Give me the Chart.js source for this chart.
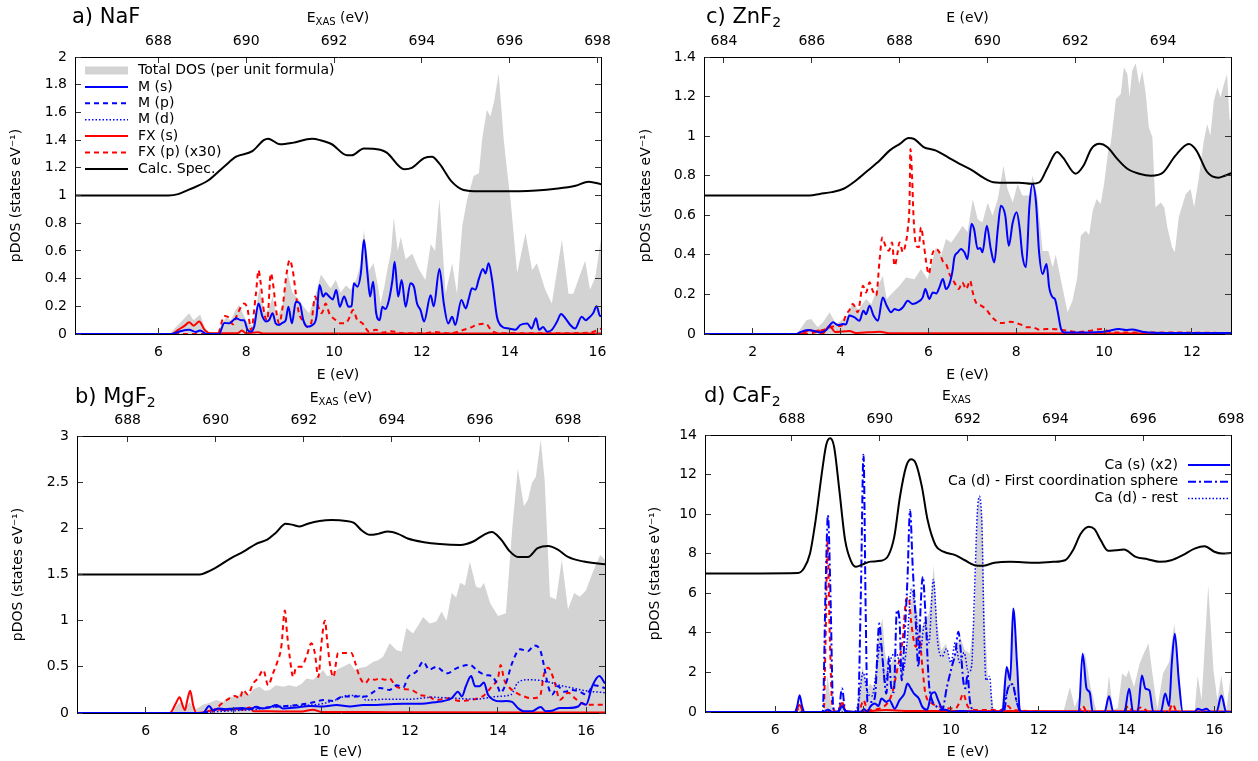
<!DOCTYPE html>
<html>
<head>
<meta charset="utf-8">
<script src="https://cdn.jsdelivr.net/npm/chart.js@4.4.1/dist/chart.umd.min.js"></script>
<style>
  html, body { margin: 0; padding: 0; background: #fff; }
  body { width: 1258px; height: 761px; position: relative; overflow: hidden; }
  canvas { position: absolute; }
</style>
</head>
<body>
<canvas id="naF" width="629" height="395" style="left:0;top:0"></canvas>
<canvas id="znF" width="629" height="395" style="left:629px;top:0"></canvas>
<canvas id="mgF" width="629" height="381" style="left:0;top:380px"></canvas>
<canvas id="caF" width="629" height="381" style="left:629px;top:380px"></canvas>
<script>
// ---- a) NaF ----  [E (eV), pDOS]
const naRange = [4.1, 16.08];
const naShift = 682;            // E_XAS = E + shift
const naXTicks = [6, 8, 10, 12, 14, 16];
const naTopTicks = [688, 690, 692, 694, 696, 698];
const naYTicks = [0, 0.2, 0.4, 0.6, 0.8, 1, 1.2, 1.4, 1.6, 1.8, 2];
const naTot = [[4.1,0],[6.25,0],[6.4,0.05],[6.55,0.1],[6.7,0.15],[6.8,0.1],[6.95,0.14],[7.05,0.05],[7.15,0.01],[7.35,0.01],[7.45,0.08],[7.55,0.12],[7.65,0.1],[7.75,0.17],[7.84,0.21],[7.92,0.15],[8.05,0.07],[8.15,0.06],[8.22,0.18],[8.3,0.33],[8.42,0.15],[8.52,0.18],[8.6,0.27],[8.7,0.12],[8.82,0.2],[8.94,0.44],[9.05,0.3],[9.2,0.25],[9.3,0.2],[9.43,0.15],[9.55,0.25],[9.7,0.43],[9.81,0.38],[9.92,0.33],[10.04,0.39],[10.15,0.3],[10.27,0.35],[10.38,0.32],[10.5,0.39],[10.6,0.5],[10.68,0.75],[10.8,0.46],[10.9,0.51],[11.0,0.35],[11.06,0.22],[11.15,0.35],[11.21,0.46],[11.3,0.6],[11.36,0.84],[11.45,0.6],[11.52,0.7],[11.63,0.54],[11.78,0.58],[11.93,0.47],[12.08,0.39],[12.2,0.65],[12.3,0.6],[12.4,0.98],[12.54,0.29],[12.69,0.51],[12.8,0.29],[12.92,0.78],[13.03,0.97],[13.18,1.14],[13.3,1.16],[13.37,1.4],[13.48,1.62],[13.56,1.57],[13.64,1.67],[13.75,1.88],[13.86,1.42],[13.94,1.18],[14.02,0.97],[14.17,0.44],[14.36,0.73],[14.51,0.46],[14.62,0.51],[14.81,0.32],[14.96,0.22],[15.19,0.68],[15.34,0.29],[15.45,0.29],[15.55,0.38],[15.72,0.53],[15.83,0.32],[15.95,0.41],[16.1,0.73]];
const naMs = [[4.1,0],[6.3,0],[6.5,0.02],[6.7,0.03],[6.85,0.015],[6.95,0.025],[7.1,0],[7.38,0],[7.5,0.08],[7.61,0.077],[7.77,0.113],[7.88,0.1],[7.95,0.1],[8.03,0.03],[8.11,0.017],[8.18,0.053],[8.28,0.22],[8.37,0.125],[8.45,0.09],[8.52,0.1],[8.6,0.15],[8.67,0.077],[8.75,0.065],[8.82,0.08],[8.9,0.1],[8.96,0.197],[9.04,0.077],[9.13,0.233],[9.22,0.22],[9.3,0.1],[9.39,0.053],[9.51,0.065],[9.6,0.125],[9.67,0.354],[9.75,0.27],[9.81,0.294],[9.89,0.27],[9.97,0.25],[10.05,0.318],[10.13,0.197],[10.23,0.27],[10.33,0.197],[10.4,0.2],[10.45,0.366],[10.53,0.342],[10.61,0.438],[10.68,0.679],[10.76,0.438],[10.82,0.27],[10.89,0.378],[10.96,0.15],[11.04,0.1],[11.1,0.197],[11.17,0.18],[11.25,0.245],[11.33,0.39],[11.38,0.522],[11.46,0.27],[11.54,0.39],[11.63,0.197],[11.74,0.366],[11.82,0.34],[11.89,0.22],[11.97,0.173],[12.05,0.09],[12.2,0.28],[12.27,0.2],[12.4,0.47],[12.5,0.22],[12.6,0.076],[12.69,0.125],[12.76,0.065],[12.9,0.245],[13.0,0.185],[13.07,0.257],[13.14,0.33],[13.22,0.32],[13.3,0.4],[13.39,0.47],[13.45,0.437],[13.52,0.51],[13.6,0.39],[13.71,0.125],[13.83,0.053],[13.98,0.04],[14.13,0.03],[14.24,0.065],[14.4,0.076],[14.5,0.04],[14.6,0.113],[14.67,0.03],[14.76,0.05],[14.85,0.017],[14.96,0.03],[15.08,0.09],[15.17,0.145],[15.27,0.113],[15.38,0.065],[15.49,0.04],[15.64,0.125],[15.73,0.1],[15.83,0.125],[15.9,0.15],[15.98,0.2],[16.06,0.13],[16.1,0.13]];
const naFs = [[4.1,0],[6.3,0],[6.45,0.03],[6.6,0.06],[6.7,0.085],[6.8,0.06],[6.93,0.09],[7.05,0.03],[7.2,0.005],[7.8,0.005],[7.9,0.025],[8.0,0.005],[8.27,0.012],[8.4,0.003],[16.1,0.003]];
const naFp = [[4.1,0],[7.35,0],[7.5,0.13],[7.6,0.12],[7.7,0.07],[7.8,0.145],[7.95,0.22],[8.03,0.18],[8.11,0.03],[8.22,0.29],[8.28,0.46],[8.33,0.366],[8.41,0.15],[8.48,0.1],[8.56,0.438],[8.62,0.34],[8.67,0.197],[8.75,0.077],[8.83,0.197],[8.92,0.438],[8.99,0.534],[9.07,0.438],[9.13,0.29],[9.2,0.15],[9.28,0.1],[9.39,0.053],[9.48,0.08],[9.57,0.27],[9.64,0.197],[9.72,0.15],[9.81,0.22],[9.89,0.15],[10.04,0.1],[10.15,0.077],[10.27,0.08],[10.36,0.125],[10.43,0.173],[10.53,0.1],[10.64,0.08],[10.8,0.017],[10.95,0.03],[11.1,0.01],[11.3,0.02],[11.6,0.005],[12.0,0.005],[12.3,0.015],[12.6,0.005],[13.05,0.04],[13.3,0.07],[13.45,0.075],[13.6,0.02],[13.8,0.005],[15.0,0.005],[15.8,0.01],[16.1,0.04]];
const naSpec = [[4.1,1.0],[6.23,1.0],[6.45,1.01],[6.68,1.04],[7.14,1.11],[7.5,1.21],[7.77,1.28],[8.14,1.32],[8.4,1.4],[8.5,1.41],[8.77,1.37],[9.05,1.38],[9.5,1.41],[9.68,1.4],[9.95,1.37],[10.3,1.29],[10.4,1.29],[10.68,1.34],[11.05,1.33],[11.2,1.31],[11.6,1.19],[11.77,1.2],[12.05,1.27],[12.23,1.28],[12.4,1.23],[12.68,1.1],[12.95,1.04],[13.3,1.03],[14.23,1.03],[15.1,1.05],[15.5,1.07],[15.8,1.1],[16.1,1.08]];

// ---- b) MgF2 ----
const mgRange = [4.44, 16.43];
const mgShift = 682.41;
const mgXTicks = [6, 8, 10, 12, 14, 16];
const mgTopTicks = [688, 690, 692, 694, 696, 698];
const mgYTicks = [0, 0.5, 1, 1.5, 2, 2.5, 3];
const mgTot = [[4.44,0],[6.6,0],[6.7,0.08],[6.8,0.12],[6.9,0.05],[7.0,0.12],[7.1,0.03],[7.2,0.06],[7.3,0.09],[7.45,0.11],[7.6,0.14],[7.75,0.12],[7.9,0.18],[8.05,0.17],[8.2,0.23],[8.35,0.2],[8.45,0.26],[8.59,0.285],[8.7,0.24],[8.82,0.25],[8.95,0.3],[9.12,0.285],[9.25,0.3],[9.42,0.285],[9.55,0.32],[9.65,0.375],[9.8,0.36],[9.9,0.4],[10.03,0.465],[10.12,0.4],[10.22,0.41],[10.35,0.47],[10.48,0.5],[10.64,0.54],[10.75,0.465],[10.88,0.49],[11.0,0.5],[11.17,0.555],[11.28,0.57],[11.39,0.61],[11.54,0.755],[11.7,0.68],[11.81,0.665],[11.92,0.92],[12.07,0.86],[12.19,0.95],[12.3,1.04],[12.45,0.97],[12.6,0.99],[12.72,1.1],[12.83,1.0],[12.95,1.3],[13.05,1.25],[13.14,1.41],[13.25,1.38],[13.36,1.64],[13.5,1.37],[13.6,1.35],[13.68,1.41],[13.82,1.19],[14.0,1.05],[14.18,1.08],[14.32,1.98],[14.45,2.65],[14.59,2.24],[14.68,2.31],[14.77,2.49],[14.86,2.56],[14.97,2.96],[15.06,2.52],[15.18,1.26],[15.32,1.23],[15.45,1.66],[15.59,1.12],[15.73,1.3],[15.86,1.26],[16.0,1.33],[16.14,1.51],[16.32,1.71],[16.43,1.66]];
const mgMs = [[4.44,0],[7.3,0],[7.44,0.075],[7.53,0.03],[7.65,0.05],[7.8,0.04],[8.0,0.05],[8.2,0.055],[8.36,0.04],[8.51,0.068],[8.65,0.05],[8.8,0.06],[8.97,0.087],[9.12,0.05],[9.42,0.06],[9.73,0.075],[10.03,0.07],[10.33,0.087],[10.64,0.07],[10.94,0.087],[11.24,0.087],[11.54,0.094],[11.85,0.1],[12.15,0.1],[12.45,0.11],[12.76,0.13],[12.95,0.16],[13.09,0.23],[13.18,0.18],[13.27,0.29],[13.39,0.4],[13.48,0.29],[13.58,0.29],[13.68,0.33],[13.77,0.2],[13.91,0.14],[14.05,0.126],[14.18,0.13],[14.32,0.12],[14.45,0.054],[14.59,0.018],[14.77,0.02],[14.97,0.065],[15.08,0.02],[15.23,0.025],[15.41,0.054],[15.59,0.054],[15.82,0.07],[15.9,0.108],[16.0,0.09],[16.14,0.29],[16.3,0.4],[16.43,0.32]];
const mgMp = [[4.44,0],[7.3,0],[7.5,0.03],[8.0,0.04],[8.5,0.05],[9.0,0.07],[9.3,0.08],[9.65,0.1],[9.85,0.12],[10.03,0.14],[10.25,0.13],[10.48,0.18],[10.75,0.18],[11.0,0.18],[11.15,0.22],[11.32,0.27],[11.54,0.25],[11.7,0.3],[11.85,0.28],[11.96,0.39],[12.15,0.45],[12.3,0.555],[12.44,0.47],[12.6,0.5],[12.76,0.45],[12.86,0.43],[13.0,0.47],[13.14,0.5],[13.36,0.52],[13.55,0.45],[13.73,0.41],[13.86,0.4],[13.97,0.32],[14.06,0.22],[14.18,0.32],[14.32,0.54],[14.5,0.69],[14.68,0.67],[14.82,0.73],[14.95,0.69],[15.05,0.5],[15.14,0.29],[15.23,0.2],[15.36,0.29],[15.5,0.23],[15.68,0.25],[15.86,0.23],[16.0,0.2],[16.18,0.3],[16.43,0.27]];
const mgMd = [[4.44,0],[7.3,0],[7.5,0.01],[8.5,0.04],[9.0,0.07],[9.5,0.08],[10.0,0.1],[10.3,0.14],[10.6,0.19],[10.9,0.18],[11.0,0.14],[11.5,0.15],[12.0,0.15],[12.5,0.17],[13.0,0.16],[13.5,0.15],[14.0,0.18],[14.3,0.2],[14.45,0.33],[14.7,0.36],[15.0,0.35],[15.2,0.33],[15.4,0.3],[15.7,0.27],[16.0,0.24],[16.43,0.22]];
const mgFs = [[4.44,0],[6.55,0],[6.68,0.1],[6.77,0.17],[6.84,0.08],[6.89,0.03],[6.95,0.15],[7.01,0.24],[7.08,0.08],[7.15,0],[7.35,0.01],[7.6,0.04],[7.8,0.03],[8.0,0.045],[8.2,0.035],[8.36,0.06],[8.45,0.02],[8.8,0.02],[9.5,0.015],[9.8,0.035],[10.0,0.01],[11.0,0.01],[12.0,0.008],[16.43,0.005]];
const mgFp = [[4.44,0],[7.45,0],[7.6,0.05],[7.72,0.1],[7.91,0.16],[8.02,0.185],[8.14,0.16],[8.21,0.25],[8.32,0.2],[8.44,0.32],[8.55,0.375],[8.67,0.465],[8.78,0.3],[8.89,0.43],[8.98,0.54],[9.08,0.72],[9.16,1.11],[9.21,0.86],[9.27,0.61],[9.35,0.39],[9.42,0.5],[9.53,0.5],[9.65,0.61],[9.76,0.755],[9.84,0.65],[9.92,0.39],[9.99,0.755],[10.07,1.0],[10.12,0.79],[10.18,0.54],[10.26,0.39],[10.37,0.65],[10.46,0.65],[10.56,0.65],[10.67,0.65],[10.75,0.555],[10.86,0.39],[10.98,0.32],[11.09,0.375],[11.2,0.36],[11.32,0.375],[11.43,0.36],[11.54,0.375],[11.66,0.3],[11.85,0.26],[12.04,0.25],[12.23,0.195],[12.42,0.18],[12.6,0.14],[12.86,0.16],[13.14,0.13],[13.41,0.144],[13.68,0.19],[13.86,0.29],[14.0,0.38],[14.06,0.52],[14.14,0.36],[14.23,0.29],[14.41,0.22],[14.59,0.18],[14.77,0.16],[14.95,0.18],[15.05,0.43],[15.14,0.49],[15.27,0.36],[15.41,0.144],[15.59,0.22],[15.77,0.15],[16.0,0.09],[16.43,0.09]];
const mgSpec = [[4.44,1.5],[7.23,1.5],[7.41,1.53],[7.68,1.6],[7.95,1.68],[8.23,1.75],[8.5,1.83],[8.77,1.88],[8.95,1.95],[9.18,2.05],[9.32,2.04],[9.5,2.02],[9.68,2.05],[9.95,2.08],[10.23,2.09],[10.55,2.08],[10.73,2.06],[10.9,1.98],[11.09,1.93],[11.27,1.94],[11.5,1.965],[11.73,1.94],[11.95,1.89],[12.32,1.85],[12.68,1.83],[13.14,1.82],[13.45,1.86],[13.68,1.93],[13.86,1.96],[14.05,1.89],[14.27,1.75],[14.45,1.69],[14.68,1.69],[14.9,1.785],[15.14,1.81],[15.36,1.77],[15.59,1.69],[15.95,1.64],[16.43,1.61]];

// ---- c) ZnF2 ----
const znRange = [0.89, 12.89];
const znShift = 682.655;
const znXTicks = [2, 4, 6, 8, 10, 12];
const znTopTicks = [684, 686, 688, 690, 692, 694];
const znYTicks = [0, 0.2, 0.4, 0.6, 0.8, 1, 1.2, 1.4];
const znTot = [[0.89,0],[3.0,0],[3.1,0.03],[3.22,0.07],[3.33,0.076],[3.48,0.034],[3.6,0.06],[3.75,0.11],[3.9,0.05],[4.05,0.076],[4.15,0.09],[4.28,0.16],[4.4,0.12],[4.58,0.177],[4.7,0.15],[4.85,0.24],[4.96,0.295],[5.05,0.177],[5.19,0.21],[5.34,0.244],[5.49,0.286],[5.68,0.277],[5.83,0.328],[5.98,0.277],[6.17,0.438],[6.29,0.396],[6.4,0.48],[6.52,0.463],[6.63,0.497],[6.78,0.547],[6.89,0.514],[7.01,0.682],[7.12,0.581],[7.23,0.564],[7.35,0.665],[7.46,0.598],[7.58,0.682],[7.71,0.85],[7.8,0.733],[7.92,0.665],[8.03,0.758],[8.14,0.7],[8.3,0.7],[8.37,0.8],[8.48,0.7],[8.6,0.42],[8.73,0.42],[8.83,0.337],[8.9,0.4],[9.02,0.27],[9.17,0.11],[9.28,0.168],[9.39,0.286],[9.47,0.497],[9.58,0.522],[9.66,0.5],[9.74,0.623],[9.83,0.682],[9.92,0.657],[10.0,0.758],[10.09,0.918],[10.15,0.96],[10.27,1.188],[10.38,1.213],[10.45,1.348],[10.53,1.314],[10.58,1.196],[10.64,1.331],[10.72,1.368],[10.8,1.263],[10.87,1.331],[10.95,1.213],[11.02,1.044],[11.1,0.994],[11.17,0.64],[11.29,0.665],[11.37,0.64],[11.44,0.539],[11.55,0.438],[11.61,0.413],[11.7,0.59],[11.86,0.707],[11.97,0.733],[12.05,0.64],[12.16,0.792],[12.27,0.977],[12.35,1.061],[12.42,1.002],[12.5,1.179],[12.58,1.247],[12.65,1.196],[12.73,1.263],[12.8,1.314],[12.86,1.078],[12.92,1.095]];
const znMs = [[0.89,0],[3.0,0],[3.07,0.008],[3.26,0.02],[3.4,0.015],[3.52,0.008],[3.67,0.02],[3.83,0.059],[3.94,0.045],[4.05,0.05],[4.12,0.048],[4.2,0.093],[4.32,0.084],[4.43,0.067],[4.52,0.118],[4.58,0.1],[4.66,0.143],[4.75,0.093],[4.85,0.067],[4.96,0.185],[5.05,0.143],[5.15,0.11],[5.23,0.126],[5.32,0.12],[5.42,0.135],[5.53,0.168],[5.64,0.152],[5.75,0.16],[5.87,0.185],[5.93,0.227],[6.02,0.177],[6.1,0.21],[6.18,0.205],[6.25,0.236],[6.33,0.278],[6.4,0.227],[6.48,0.253],[6.55,0.32],[6.59,0.387],[6.67,0.413],[6.74,0.43],[6.82,0.413],[6.89,0.379],[6.98,0.556],[7.04,0.53],[7.12,0.43],[7.18,0.435],[7.23,0.413],[7.33,0.547],[7.42,0.43],[7.5,0.362],[7.58,0.53],[7.65,0.648],[7.75,0.598],[7.83,0.446],[7.92,0.564],[8.01,0.615],[8.08,0.53],[8.14,0.396],[8.22,0.337],[8.3,0.648],[8.37,0.758],[8.45,0.665],[8.52,0.413],[8.6,0.303],[8.69,0.354],[8.75,0.236],[8.83,0.185],[8.88,0.177],[8.94,0.118],[9.02,0.025],[9.09,0.008],[9.5,0.008],[10.04,0.013],[10.34,0.025],[10.5,0.02],[10.64,0.023],[10.9,0.01],[11.5,0.005],[12.92,0.005]];
const znFs = [[0.89,0],[3.1,0],[3.3,0.02],[3.4,0.012],[3.5,0.018],[3.58,0],[3.75,0.04],[3.88,0.01],[4.2,0.015],[4.35,0.005],[4.9,0.012],[5.1,0.004],[12.92,0.003]];
const znFp = [[0.89,0],[3.2,0],[3.6,0.02],[3.9,0.04],[4.02,0.042],[4.13,0.1],[4.2,0.12],[4.28,0.152],[4.39,0.11],[4.51,0.244],[4.58,0.21],[4.66,0.261],[4.73,0.219],[4.81,0.194],[4.89,0.379],[4.95,0.488],[5.02,0.446],[5.1,0.421],[5.17,0.463],[5.23,0.345],[5.3,0.413],[5.34,0.463],[5.42,0.413],[5.48,0.454],[5.53,0.53],[5.57,0.665],[5.59,0.935],[5.63,0.783],[5.66,0.598],[5.72,0.446],[5.78,0.438],[5.83,0.539],[5.89,0.463],[5.95,0.362],[6.01,0.303],[6.08,0.396],[6.17,0.43],[6.25,0.413],[6.34,0.362],[6.4,0.354],[6.48,0.303],[6.59,0.261],[6.69,0.227],[6.77,0.261],[6.86,0.227],[6.95,0.27],[7.01,0.21],[7.08,0.16],[7.2,0.143],[7.31,0.126],[7.42,0.093],[7.54,0.067],[7.65,0.055],[7.77,0.058],[7.88,0.062],[8.0,0.055],[8.11,0.047],[8.22,0.034],[8.37,0.034],[8.52,0.022],[8.7,0.025],[8.9,0.024],[9.16,0.017],[9.4,0.01],[9.7,0.017],[9.94,0.025],[10.2,0.008],[11.0,0.008],[12.92,0.005]];
const znSpec = [[0.89,0.7],[3.3,0.7],[3.53,0.708],[3.8,0.717],[4.07,0.734],[4.35,0.776],[4.62,0.826],[4.89,0.877],[5.12,0.928],[5.35,0.961],[5.55,0.99],[5.66,0.987],[5.89,0.945],[6.16,0.928],[6.44,0.894],[6.71,0.86],[6.98,0.83],[7.25,0.79],[7.48,0.767],[7.8,0.764],[8.07,0.764],[8.35,0.759],[8.53,0.767],[8.7,0.835],[8.93,0.92],[9.07,0.89],[9.35,0.81],[9.53,0.85],[9.71,0.936],[9.9,0.961],[10.07,0.945],[10.3,0.885],[10.53,0.835],[10.8,0.81],[11.07,0.8],[11.35,0.818],[11.62,0.9],[11.93,0.96],[12.1,0.928],[12.35,0.818],[12.6,0.79],[12.75,0.8],[12.92,0.815]];

// ---- d) CaF2 ----
const caRange = [4.4, 16.38];
const caShift = 681.62;
const caXTicks = [6, 8, 10, 12, 14, 16];
const caTopTicks = [688, 690, 692, 694, 696, 698];
const caYTicks = [0, 2, 4, 6, 8, 10, 12, 14];
const caTot = [[4.4,0],[6.45,0],[6.55,0.3],[6.65,0],[7.1,0],[7.19,1.8],[7.28,0.3],[7.45,0],[7.52,0.4],[7.6,0],[7.85,0],[7.92,1.5],[7.99,2.28],[8.08,1.2],[8.16,1.44],[8.25,1.2],[8.34,3.8],[8.44,4.73],[8.5,3.0],[8.57,2.28],[8.65,2.5],[8.72,2.96],[8.8,2.2],[8.87,2.96],[8.94,2.8],[9.01,3.63],[9.07,5.0],[9.13,6.33],[9.2,5.49],[9.31,4.14],[9.42,4.64],[9.5,4.98],[9.56,6.0],[9.61,7.42],[9.69,4.47],[9.78,3.12],[9.89,3.46],[9.98,2.45],[10.1,2.96],[10.21,3.8],[10.32,3.12],[10.43,2.96],[10.54,4.98],[10.6,10.2],[10.65,10.9],[10.72,9.7],[10.77,4.64],[10.84,1.8],[10.91,1.1],[10.99,0],[11.15,0],[11.21,1.6],[11.29,2.28],[11.35,2.0],[11.42,5.06],[11.5,2.0],[11.57,0.09],[11.65,0],[12.56,0],[12.71,1.26],[12.82,0.25],[12.96,1.0],[13.05,3.03],[13.18,1.26],[13.32,0],[13.5,0],[13.54,0.6],[13.6,1.85],[13.69,0.1],[13.8,0.2],[13.9,1.94],[13.99,1.77],[14.05,2.11],[14.17,1.26],[14.3,2.45],[14.39,2.95],[14.5,3.46],[14.61,1.6],[14.7,0.17],[14.83,1.94],[14.97,2.53],[15.09,4.47],[15.19,2.11],[15.28,0.08],[15.55,0],[15.62,1.85],[15.71,0.6],[15.86,6.4],[15.98,2.11],[16.07,0.6],[16.16,1.85],[16.27,0.08],[16.38,1.94]];
const caS = [[4.4,0],[6.44,0],[6.5,0.3],[6.555,0.85],[6.61,0.3],[6.67,0],[7.1,0],[7.2,0.12],[7.3,0],[7.45,0.05],[7.52,0.3],[7.6,0.05],[7.95,0],[8.02,0.15],[8.1,0],[8.16,0.26],[8.27,0.43],[8.35,0.3],[8.42,0.68],[8.53,0.51],[8.6,0.6],[8.72,0.17],[8.83,0.6],[8.94,0.93],[9.01,1.44],[9.09,1.18],[9.16,0.93],[9.27,0.68],[9.35,0.26],[9.46,0.12],[9.56,0.93],[9.63,1.0],[9.71,0.6],[9.8,0.17],[9.9,0.1],[10.02,0],[10.2,0.05],[10.4,0.03],[11.1,0],[11.18,0.09],[11.27,2.28],[11.35,1.6],[11.42,5.23],[11.51,2.28],[11.57,0.09],[11.65,0],[12.91,0],[13.0,2.95],[13.09,1.18],[13.16,1.0],[13.23,0],[13.5,0],[13.6,0.8],[13.7,0],[13.95,0],[14.06,1.18],[14.15,0],[14.25,0],[14.35,1.85],[14.43,1.18],[14.52,1.1],[14.61,0],[14.78,0],[14.88,0.93],[14.97,0.3],[15.03,2.45],[15.1,3.96],[15.19,1.6],[15.28,0],[15.55,0],[15.62,0.17],[15.72,0.1],[15.82,0.17],[15.92,0],[16.05,0],[16.16,0.84],[16.27,0],[16.38,0]];
const caD1 = [[4.4,0],[7.08,0],[7.15,6.67],[7.2,9.95],[7.25,6.67],[7.32,0.26],[7.38,0],[7.44,0],[7.52,1.19],[7.6,0],[7.88,0],[7.95,6.0],[8.01,13.0],[8.06,5.0],[8.1,0.5],[8.2,0.5],[8.27,0.76],[8.37,4.47],[8.42,3.29],[8.46,2.28],[8.53,0.93],[8.59,2.79],[8.64,1.27],[8.7,1.0],[8.77,5.15],[8.83,4.64],[8.88,1.6],[8.94,3.63],[9.01,6.67],[9.07,10.21],[9.13,7.34],[9.19,4.98],[9.26,2.28],[9.31,5.32],[9.36,6.84],[9.42,4.98],[9.5,1.44],[9.57,0.6],[9.68,0.26],[9.8,0.1],[9.91,1.27],[10.02,2.28],[10.1,2.96],[10.17,4.05],[10.23,2.96],[10.28,1.6],[10.33,1.2],[10.38,1.9],[10.43,0.6],[10.5,0.09],[10.6,0],[11.2,0],[11.3,1.2],[11.4,1.4],[11.5,0.5],[11.6,0],[16.38,0]];
const caDr = [[4.4,0],[7.8,0],[7.9,0.5],[8.0,2.0],[8.1,1.0],[8.2,0.8],[8.3,2.0],[8.4,3.5],[8.5,1.5],[8.6,2.5],[8.75,3.0],[8.9,2.0],[9.0,3.5],[9.1,6.2],[9.2,5.0],[9.3,3.0],[9.4,4.5],[9.5,3.5],[9.6,6.7],[9.7,3.5],[9.8,2.8],[9.9,3.2],[10.0,2.5],[10.1,3.5],[10.2,2.5],[10.3,3.0],[10.4,2.0],[10.47,2.3],[10.54,6.2],[10.6,10.0],[10.65,10.9],[10.71,9.2],[10.75,4.6],[10.8,1.6],[10.88,1.8],[10.95,0.1],[11.1,0],[11.2,0.3],[11.3,1.2],[11.4,1.4],[11.5,0.5],[11.6,0],[16.38,0]];
const caFp = [[4.4,0],[6.45,0],[6.55,0.2],[6.65,0],[7.1,0],[7.15,4.0],[7.19,8.6],[7.24,4.0],[7.3,0.3],[7.4,0],[7.45,0.1],[7.52,0.5],[7.6,0.05],[7.9,0],[8.01,0.6],[8.1,0.1],[8.4,0.2],[8.6,0.6],[8.68,1.1],[8.79,2.28],[8.9,3.63],[8.98,5.65],[9.04,5.8],[9.09,4.64],[9.2,3.3],[9.28,3.8],[9.35,2.28],[9.42,0.93],[9.57,0.43],[9.7,0.3],[10.1,0.17],[10.2,0.5],[10.28,0.93],[10.39,0.26],[10.6,0.1],[11.2,0.1],[11.3,0.3],[11.4,0.1],[12.9,0],[13.0,0.3],[13.1,0],[13.9,0],[14.05,0.3],[14.15,0],[14.35,0.25],[14.5,0],[14.95,0],[15.05,0.4],[15.15,0],[16.38,0]];
const caFs = [[4.4,0],[6.45,0],[6.55,0.35],[6.65,0],[7.42,0],[7.52,0.45],[7.62,0],[8.2,0.05],[8.5,0.1],[9.0,0.05],[9.6,0.05],[16.38,0.02]];
const caSpec = [[4.4,7.0],[6.52,7.03],[6.65,7.25],[6.79,8.0],[6.92,9.7],[7.06,12.06],[7.16,13.5],[7.25,13.83],[7.34,13.4],[7.46,11.2],[7.59,8.7],[7.73,7.6],[7.84,7.34],[7.99,7.46],[8.17,7.6],[8.4,7.64],[8.58,7.93],[8.71,8.85],[8.84,10.88],[8.98,12.4],[9.09,12.77],[9.2,12.57],[9.34,11.38],[9.47,9.7],[9.65,8.43],[9.83,8.1],[10.1,7.93],[10.32,7.67],[10.54,7.42],[10.72,7.39],[10.99,7.54],[11.35,7.59],[11.89,7.54],[12.33,7.59],[12.6,7.67],[12.78,8.18],[12.96,9.02],[13.14,9.36],[13.27,9.24],[13.41,8.69],[13.58,8.15],[13.76,8.18],[13.94,8.21],[14.21,7.84],[14.48,7.72],[14.75,7.59],[15.02,7.67],[15.28,7.93],[15.55,8.26],[15.78,8.38],[16.0,8.1],[16.18,8.01],[16.38,8.04]];

const BLUE = '#0000ff', RED = '#ff0000', BLACK = '#000000', GRAY = '#d3d3d3';
const DASH = [5, 4], DOT = [1.5, 2], DASHDOT = [8, 3, 2, 3];
const FONT = '"DejaVu Sans", sans-serif';

Chart.defaults.font.family = FONT;
Chart.defaults.font.size = 14;
Chart.defaults.color = '#000';

function pts(a) { return a.map(p => ({x: p[0], y: p[1]})); }

function area(a) {
  return { data: pts(a), fill: 'origin', backgroundColor: GRAY, borderWidth: 0, pointRadius: 0, order: 10 };
}
function curve(a, color, dash, width) {
  return { data: pts(a), borderColor: color, borderDash: dash || [], borderWidth: width || 2,
           pointRadius: 0, fill: false, cubicInterpolationMode: 'monotone' };
}

// text with sub/superscript parts: [text, size, dy]
function rich(ctx, parts, x, y, align) {
  let w = 0;
  parts.forEach(p => { ctx.font = p[1] + 'px ' + FONT; w += ctx.measureText(p[0]).width; });
  let cx = align === 'center' ? x - w / 2 : x;
  ctx.textAlign = 'left';
  parts.forEach(p => {
    ctx.font = p[1] + 'px ' + FONT;
    ctx.fillText(p[0], cx, y + (p[2] || 0));
    cx += ctx.measureText(p[0]).width;
  });
}

// panel label, top axis title and key, kept in a closure per chart
function decor(text, key) {
  return {
    id: 'decor',
    afterDraw(chart) {
      const ctx = chart.ctx, ca = chart.chartArea;
      ctx.save();
      ctx.fillStyle = '#000';
      ctx.textBaseline = 'alphabetic';
      rich(ctx, text.label, text.labelX, text.labelY, 'left');
      if (text.topX != null) rich(ctx, text.top, text.topX, text.topY, 'left');
      else rich(ctx, text.top, (ca.left + ca.right) / 2, text.topY, 'center');
      if (key) {
        ctx.font = '14px ' + FONT;
        ctx.textBaseline = 'middle';
        key.items.forEach((it, i) => {
          const y = key.y + i * key.step;
          if (it.fill) {
            ctx.fillStyle = it.fill;
            ctx.fillRect(key.x1, y - 4, key.x2 - key.x1, 8);
          } else {
            ctx.strokeStyle = it.color;
            ctx.lineWidth = it.width || 2;
            ctx.setLineDash(it.dash || []);
            ctx.beginPath(); ctx.moveTo(key.x1, y); ctx.lineTo(key.x2, y); ctx.stroke();
            ctx.setLineDash([]);
          }
          ctx.fillStyle = '#000';
          ctx.textAlign = key.align;
          ctx.fillText(it.text, key.tx, y);
        });
      }
      ctx.restore();
    }
  };
}

function axes(p) {
  const setTicks = arr => s => { s.ticks = arr.map(v => ({value: v})); };
  const grid = { drawOnChartArea: false, drawTicks: true, tickLength: -6, color: '#333', z: 1 };
  const border = { color: '#000', width: 1, z: 1 };
  const fmt = v => String(+(+v).toFixed(2));
  const ymin = p.yTicks[0], ymax = p.yTicks[p.yTicks.length - 1];
  return {
    x: { type: 'linear', position: 'bottom', bounds: 'data', min: p.range[0], max: p.range[1],
         afterBuildTicks: setTicks(p.xTicks), afterFit: s => { s.height = p.H - p.B; },
         grid, border, ticks: { padding: 15.5, autoSkip: false, maxRotation: 0, callback: fmt },
         title: { display: true, text: 'E (eV)', padding: { top: 0, bottom: p.xtPad } } },
    x2: { type: 'linear', position: 'top', bounds: 'data', min: p.range[0] + p.shift, max: p.range[1] + p.shift,
          afterBuildTicks: setTicks(p.topTicks), afterFit: s => { s.height = p.T; },
          grid, border, ticks: { padding: 13.6, autoSkip: false, maxRotation: 0, callback: fmt } },
    y: { type: 'linear', position: 'left', bounds: 'data', min: ymin, max: ymax,
         afterBuildTicks: setTicks(p.yTicks), afterFit: s => { s.width = p.L; },
         grid, border, ticks: { padding: 14, autoSkip: false, callback: fmt },
         title: { display: true, text: 'pDOS (states eV\u207B\u00B9)', padding: { top: p.ytPad, bottom: 0 } } },
    y2: { type: 'linear', position: 'right', bounds: 'data', min: ymin, max: ymax,
          afterBuildTicks: setTicks(p.yTicks), afterFit: s => { s.width = p.W - p.R; },
          grid, border, ticks: { display: false } }
  };
}

function makeChart(id, p, datasets, text, key) {
  return new Chart(document.getElementById(id), {
    type: 'line',
    data: { datasets },
    options: {
      responsive: false,
      animation: false,
      layout: { padding: 0 },
      scales: axes(p),
      plugins: { legend: { display: false }, tooltip: { enabled: false } }
    },
    plugins: [decor(text, key)]
  });
}

const XAS = [['E', 14], ['XAS', 10, 3], [' (eV)', 14]];

makeChart('naF',
  { W: 629, H: 395, L: 75, T: 57, R: 601, B: 334, xtPad: 11.6, ytPad: 7.6,
    range: naRange, shift: naShift, xTicks: naXTicks, topTicks: naTopTicks, yTicks: naYTicks },
  [curve(naSpec, BLACK), curve(naMs, BLUE), curve(naFp, RED, DASH), curve(naFs, RED), area(naTot)],
  { label: [['a) NaF', 21]], labelX: 72, labelY: 23, top: XAS, topY: 22 },
  { x1: 85, x2: 128, tx: 138, y: 70.5, step: 16.4, align: 'left', items: [
    { text: 'Total DOS (per unit formula)', fill: GRAY },
    { text: 'M (s)', color: BLUE },
    { text: 'M (p)', color: BLUE, dash: DASH },
    { text: 'M (d)', color: BLUE, dash: DOT, width: 1.5 },
    { text: 'FX (s)', color: RED },
    { text: 'FX (p) (x30)', color: RED, dash: DASH },
    { text: 'Calc. Spec.', color: BLACK } ] });

makeChart('znF',
  { W: 629, H: 395, L: 75, T: 57, R: 602, B: 334, xtPad: 11.6, ytPad: 8.6,
    range: znRange, shift: znShift, xTicks: znXTicks, topTicks: znTopTicks, yTicks: znYTicks },
  [curve(znSpec, BLACK), curve(znMs, BLUE), curve(znFp, RED, DASH), curve(znFs, RED), area(znTot)],
  { label: [['c) ZnF', 21], ['2', 14, 4]], labelX: 77, labelY: 23, top: [['E (eV)', 14]], topY: 22 });

makeChart('mgF',
  { W: 629, H: 381, L: 77, T: 56, R: 605, B: 333, xtPad: 0, ytPad: 9.6,
    range: mgRange, shift: mgShift, xTicks: mgXTicks, topTicks: mgTopTicks, yTicks: mgYTicks },
  [curve(mgSpec, BLACK), curve(mgMs, BLUE), curve(mgMp, BLUE, DASH), curve(mgMd, BLUE, DOT, 1.5),
   curve(mgFp, RED, DASH), curve(mgFs, RED), area(mgTot)],
  { label: [['b) MgF', 21], ['2', 14, 4]], labelX: 75, labelY: 23, top: XAS, topY: 22 });

makeChart('caF',
  { W: 629, H: 381, L: 76, T: 55, R: 612, B: 332, xtPad: 0.6, ytPad: 17.6,
    range: caRange, shift: caShift, xTicks: caXTicks, topTicks: caTopTicks, yTicks: caYTicks },
  [curve(caSpec, BLACK), curve(caS, BLUE), curve(caD1, BLUE, DASHDOT), curve(caDr, BLUE, DOT, 1.5),
   curve(caFp, RED, DASH), curve(caFs, RED), area(caTot)],
  { label: [['d) CaF', 21], ['2', 14, 4]], labelX: 75, labelY: 22, top: [['E', 14], ['XAS', 10, 3]], topX: 313, topY: 20 },
  { x1: 559, x2: 601, tx: 549, y: 85, step: 16.7, align: 'right', items: [
    { text: 'Ca (s) (x2)', color: BLUE },
    { text: 'Ca (d) - First coordination sphere', color: BLUE, dash: DASHDOT },
    { text: 'Ca (d) - rest', color: BLUE, dash: DOT, width: 1.5 } ] });
</script>
</body>
</html>
